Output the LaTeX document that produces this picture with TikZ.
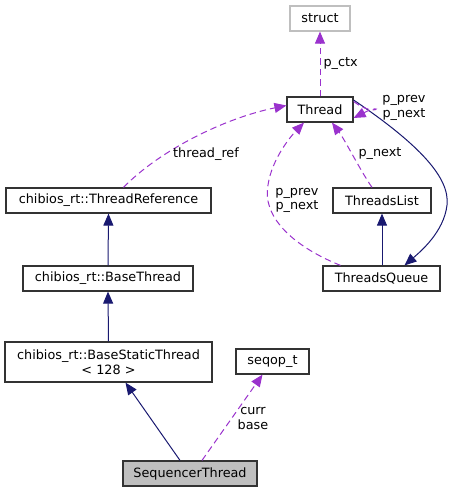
\documentclass[tikz,border=0pt]{standalone}
\usepackage{fontspec}
\setmainfont{DejaVu Sans}
\usetikzlibrary{arrows.meta}
\definecolor{navy}{HTML}{191970}
\definecolor{orchid}{HTML}{9A32CD}
\definecolor{boxgray}{HTML}{BFBFBF}
\tikzset{
  cls/.style={draw=black!80, line width=1.2pt, fill=white, inner sep=0pt, font=\fontsize{12.8}{15}\selectfont, align=center},
  inh/.style={draw=navy, line width=1pt, -{Triangle[length=12pt,width=10pt]}, color=navy},
  use/.style={draw=orchid, line width=1pt, dash pattern=on 6.5pt off 4pt, -{Triangle[length=12pt,width=10pt]}, color=orchid},
  lbl/.style={font=\fontsize{12.8}{14.5}\selectfont, inner sep=0pt, align=center, text=black},
}
\begin{document}
\begin{tikzpicture}[x=1pt,y=-1pt]
\useasboundingbox (0,0) rectangle (452,492);
\node[cls, draw=boxgray, minimum width=60pt, minimum height=25pt] (struct) at (320,18.5) {struct};
\node[cls, minimum width=66pt, minimum height=25pt] (thread) at (320,109.5) {Thread};
\node[cls, minimum width=205pt, minimum height=25pt] (tref) at (108.5,200.5) {chibios\_rt::ThreadReference};
\node[cls, minimum width=98pt, minimum height=25pt] (tlist) at (382,200.5) {ThreadsList};
\node[cls, minimum width=170pt, minimum height=25pt] (bthread) at (108,278.5) {chibios\_rt::BaseThread};
\node[cls, minimum width=117pt, minimum height=25pt] (tqueue) at (381.5,278.5) {ThreadsQueue};
\node[cls, minimum width=207pt, minimum height=40pt] (bsthread) at (108.5,362) {chibios\_rt::BaseStaticThread\\{}< 128 >};
\node[cls, minimum width=73pt, minimum height=25pt] (seqop) at (272.5,361.5) {seqop\_t};
\node[cls, fill=boxgray, minimum width=134pt, minimum height=25pt] (seq) at (190,473.5) {SequencerThread};

% inheritance
\draw[inh] (tqueue.north -| tlist) -- (tlist.south);
\draw[inh] (bthread.north) -- (tref.south);
\draw[inh] (bsthread.north) -- (bthread.south);
\draw[inh] ([xshift=-10pt]seq.north) -- ([xshift=17pt]bsthread.south);
\draw[inh] ([yshift=9.5pt]thread.east) .. controls (420,145) and (450,178) .. (447,205) .. controls (444,232) and (420,252) .. ([xshift=23pt]tqueue.north);

% usage
\draw[use] (thread.north) -- node[lbl, right=3pt] {p\_ctx} (struct.south);
\draw[use] ([yshift=8pt]thread.east) .. controls (377,119) and (385,102) .. ([yshift=-8.5pt]thread.east);
\node[lbl] (selflbl) at (404,108) {p\_prev\\p\_next};
\draw[use] ([xshift=15pt]tref.north) .. controls (160,150) and (225,118) .. ([yshift=4pt]thread.west);
\node[lbl] (treflbl) at (206,154) {thread\_ref};
\draw[use] ([xshift=-41pt]tqueue.north) .. controls (290,245) and (262,215) .. (268,185) .. controls (272,158) and (292,135) .. ([xshift=-16pt]thread.south);
\node[lbl] (qlbl) at (297,200.5) {p\_prev\\p\_next};
\draw[use] ([xshift=-10pt]tlist.north) .. controls (360,170) and (345,140) .. ([xshift=12pt]thread.south);
\node[lbl] (llbl) at (380,154) {p\_next};
\draw[use] ([xshift=12pt]seq.north) -- ([xshift=-10pt]seqop.south);
\node[lbl] (slbl) at (253,418.5) {curr\\base};
\end{tikzpicture}
\end{document}
